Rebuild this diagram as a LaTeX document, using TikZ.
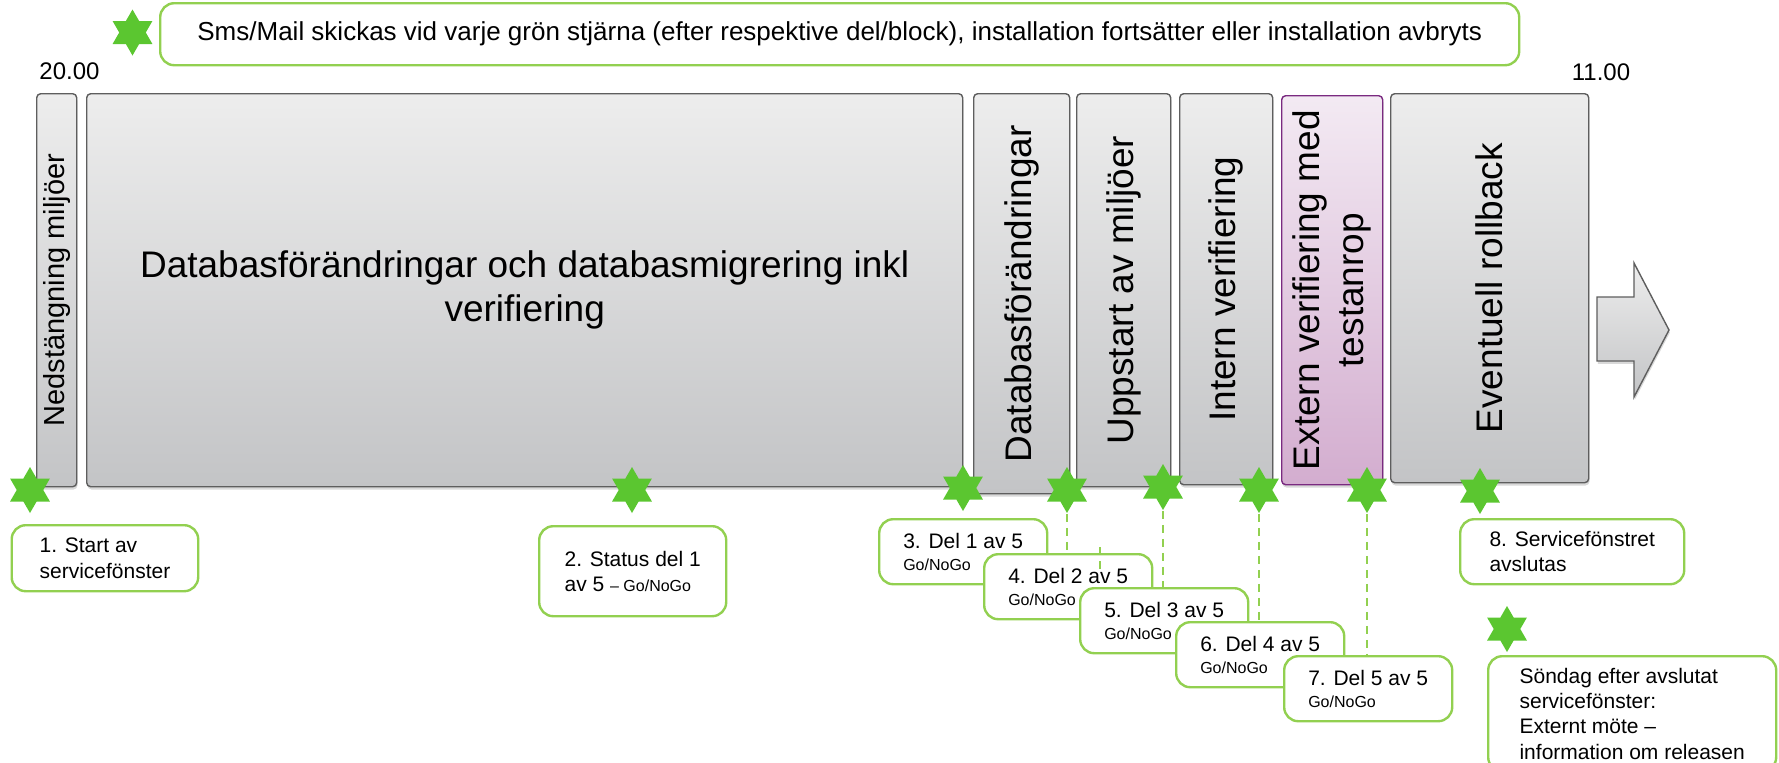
\documentclass[tikz,border=0pt]{standalone}
\usepackage{fontspec}
\setmainfont{Liberation Sans}
\usetikzlibrary{shadows,shapes.geometric}

\definecolor{stargreen}{HTML}{5BC630}
\definecolor{boxgreen}{HTML}{92D050}
\definecolor{blockline}{HTML}{5E5E5E}
\definecolor{blocktop}{HTML}{EDEDED}
\definecolor{blockbot}{HTML}{C3C4C6}
\definecolor{exttop}{HTML}{F3EAF3}
\definecolor{extbot}{HTML}{D3ADCF}
\definecolor{extline}{HTML}{7A2A80}

\newcommand{\gonogo}{\fontsize{8}{9.6}\selectfont}

\tikzset{
  block/.style={draw=blockline, line width=0.7pt, rounded corners=2pt, top color=blocktop, bottom color=blockbot,
    inner sep=0pt, anchor=north west, drop shadow={shadow xshift=0.4pt, shadow yshift=-1.4pt, opacity=0.3}},
  extblock/.style={block, draw=extline, top color=exttop, bottom color=extbot},
  blocktext/.style={font=\fontsize{18.5}{22.2}\selectfont, inner sep=0pt},
  gstar/.style={star, star points=6, star point ratio=1.732, fill=stargreen, inner sep=0pt, minimum size=23pt},
  callout/.style={draw=boxgreen, line width=1.2pt, rounded corners=7pt, fill=white, inner sep=0pt, align=left,
    anchor=north west, font=\fontsize{10.5}{12.6}\selectfont},
  delbox/.style={callout, minimum width=84pt, minimum height=32.5pt},
  dashline/.style={draw=boxgreen, line width=0.9pt, dash pattern=on 4pt off 3pt},
  timelabel/.style={font=\fontsize{12}{14}\selectfont},
  arrowshp/.style={draw=blockline, line width=0.7pt, top color=blocktop, bottom color=blockbot,
    drop shadow={shadow xshift=0.4pt, shadow yshift=-1.4pt, opacity=0.3}}
}

\begin{document}
\begin{tikzpicture}[x=0.5pt, y=-0.5pt]
    \useasboundingbox (0,0) rectangle (1779,762);
    \clip (0,0) rectangle (1779,762);

    \node[callout, minimum width=679.5pt, minimum height=31pt, align=center, font=\fontsize{13}{15.6}\selectfont] (legend)
        at (159,2) {Sms/Mail skickas vid varje grön stjärna (efter respektive del/block), installation fortsätter eller installation avbryts};
    \node[timelabel] (tstart) at (69.5,71.5) {20.00};
    \node[timelabel] (tend) at (1601,72) {11.00};

    \node[block, minimum width=20pt, minimum height=196.5pt] (ned) at (36,93) {};
    \node[block, minimum width=438pt, minimum height=196.5pt] (dbmig) at (86,93) {};
    \node[block, minimum width=48pt, minimum height=200pt] (dbchg) at (973,93) {};
    \node[block, minimum width=47pt, minimum height=196.5pt] (upp) at (1076,93) {};
    \node[block, minimum width=46.5pt, minimum height=195.5pt] (intver) at (1179,93) {};
    \node[extblock, minimum width=50.5pt, minimum height=194.5pt] (extver) at (1281,95) {};
    \node[block, minimum width=99pt, minimum height=194.5pt] (rollb) at (1390,93) {};

    \node[blocktext, rotate=90, font=\fontsize{14.5}{17}\selectfont] (nedt) at (ned.center) {Nedstängning miljöer};
    \node[blocktext, align=center] (dbmigt) at (dbmig.center) {Databasförändringar och databasmigrering inkl\\verifiering};
    \node[blocktext, rotate=90] (dbchgt) at (dbchg.center) {Databasförändringar};
    \node[blocktext, rotate=90] (uppt) at (upp.center) {Uppstart av miljöer};
    \node[blocktext, rotate=90] (intvert) at (intver.center) {Intern verifiering};
    \node[blocktext, rotate=90, align=center] (extvert) at (extver.center) {Extern verifiering med\\testanrop};
    \node[blocktext, rotate=90] (rollbt) at (rollb.center) {Eventuell rollback};

    \path[arrowshp] (1597,297) -- (1634,297) -- (1634,263) -- (1669,330) -- (1634,397) -- (1634,361) -- (1597,361) -- cycle;

    \foreach \nm/\x/\y in {sl/132.5/32.5, s1/30/490, s2/632/490, s3/963/488, s4/1067/490,
                           s5/1163/487, s6/1259/490, s7/1367/490, s8/1480/491, s9/1507/629}
        \node[gstar] (\nm) at (\x,\y) {};

    \node[callout, minimum width=93.25pt, minimum height=33pt] (c1) at (10.5,524) {1. Start av\\servicefönster};
    \node[callout, minimum width=93.5pt, minimum height=45pt] (c2) at (538,525) {2. Status del 1\\av 5 {\gonogo – Go/NoGo}};
    \foreach \i/\x/\y in {3/878/518, 4/983/553, 5/1079/587, 6/1175/621, 7/1283/655}
        {
            \pgfmathtruncatemacro{\delnr}{\i-2}
            \node[delbox] (c\i) at (\x,\y) {\i. Del \delnr\ av 5\\[-1.5pt]{\gonogo Go/NoGo}};
        }
    \node[callout, minimum width=112pt, minimum height=32.5pt] (c8) at (1459,518) {8. Servicefönstret\\avslutas};
    \node[callout, minimum width=144pt, minimum height=57.5pt] (c9) at (1487,655)
        {Söndag efter avslutat\\servicefönster:\\Externt möte –\\information om releasen};

    \foreach \a/\b in {s4/c4, s5/c5, s6/c6, s7/c7}
        \draw[dashline] (\a.south) -- (\a.south |- \b.north);
    \coordinate (m1) at (1100,547);
    \coordinate (m2) at (1100,573);
    \draw[dashline] (m1) -- (m2);
\end{tikzpicture}
\end{document}
